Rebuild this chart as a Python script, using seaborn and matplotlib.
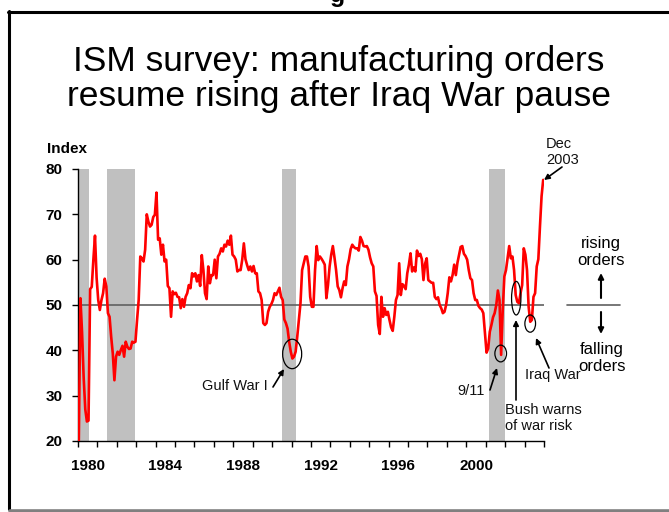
import numpy as np
import pandas as pd
import matplotlib.pyplot as plt
import seaborn as sns
from matplotlib.patches import Ellipse
from matplotlib.lines import Line2D

sns.set_style('ticks')
plt.rcParams['font.family'] = ['Liberation Sans', 'DejaVu Sans']
plt.rcParams['text.color'] = 'black'
plt.rcParams['xtick.color'] = 'black'
plt.rcParams['ytick.color'] = 'black'

# ISM manufacturing new orders index, monthly Jan 1980 - Dec 2003
orders_1980s = [
    20, 51.5, 44, 34, 27, 24.3, 24.5, 53.5, 54, 60, 65.3, 56,             # 1980
    51.1, 48.9, 51.1, 52.6, 55.8, 54.1, 48.2, 47.4, 43, 39.3, 33.4, 38.6,  # 1981
    39.7, 39, 40.1, 41, 38.6, 41.9, 40.8, 40.3, 40.4, 41.9, 41.7, 41.9,    # 1982
    46.7, 51.1, 60.7, 60.3, 59.6, 62.2, 70, 68.4, 67.3, 67.7, 69.4, 69.9,  # 1983
    74.8, 64.4, 64.7, 61.1, 63.3, 59.6, 60, 54.2, 53.7, 47.4, 53, 52.4,    # 1984
    52.7, 51.8, 51.7, 49.3, 51.3, 49.6, 51.8, 52.6, 54.4, 53.7, 57, 56.3,  # 1985
    57, 55.2, 56.6, 54.2, 61, 57.7, 52.6, 51.3, 58.5, 54.8, 56.6, 56.6,    # 1986
    60, 55.9, 60.7, 61.3, 62.5, 61.8, 63.3, 62.9, 64.2, 63.3, 65.3, 61.1,  # 1987
    60.7, 60, 57.4, 57.7, 57.7, 60, 63.6, 60.1, 58.8, 57.7, 58.5, 57.4,    # 1988
    58.6, 57, 57, 53, 52.6, 51.1, 46, 45.6, 46, 48.5, 49.6, 50.2,          # 1989
]
orders_1990s = [
    51.1, 52.6, 52.2, 53, 53.8, 51.8, 51.1, 46.8, 46, 44.8, 41.9, 39.7,    # 1990
    38.2, 38.6, 39.7, 43, 46.7, 50.4, 57.7, 59.2, 60.7, 60.7, 58.5, 51.8,  # 1991
    49.6, 49.6, 57.7, 63, 59.9, 60.7, 60.2, 59.6, 58.9, 51.5, 54.4, 58.5,  # 1992
    61.1, 63, 60.5, 57.7, 54.1, 53.3, 51.7, 53.7, 55.2, 54.4, 58.5, 60.1,  # 1993
    62.3, 63.3, 62.8, 62.5, 62.5, 62, 65, 64.2, 63, 62.9, 63, 62.2,        # 1994
    60.5, 59.2, 58.5, 53, 52, 45.6, 43.6, 51.8, 47.4, 49.3, 47.8, 48.5,    # 1995
    46.7, 45.1, 44.3, 47.4, 51.1, 52.2, 59.2, 52.2, 54.6, 54.2, 53.5, 57,  # 1996
    58.9, 61.4, 57.4, 58.3, 57.4, 62, 60.8, 61.3, 60.1, 55.5, 59.1, 60.3,  # 1997
    55.5, 55.2, 54.9, 54.9, 51.8, 51.3, 51.7, 50, 49.3, 48.2, 48.5, 50,    # 1998
    52.6, 56.1, 55.2, 56.6, 58.9, 56.6, 59.3, 61.1, 62.8, 63, 61.3, 60.8,  # 1999
]
orders_2000s = [
    60, 57.7, 55.9, 55.5, 52.6, 51.1, 51.1, 49.8, 49.3, 49, 48.2, 43.7,    # 2000
    39.5, 40.4, 44.1, 45.6, 47.3, 48.2, 50, 53.2, 51.1, 39, 48.9, 56.3,    # 2001
    57.7, 60.3, 63, 60.3, 60.7, 57.7, 52.2, 50.7, 50.4, 52.6, 54.4, 62.5,  # 2002
    61.1, 57.7, 49.6, 46.3, 46.7, 51.8, 52.6, 58.5, 60.1, 67.3, 74, 77.6,  # 2003
]

# NBER recessions (decimal years)
recessions = [(1980.0, 1980.58), (1981.5, 1982.92), (1990.5, 1991.25), (2001.17, 2001.98)]
year_labels = ['1980', '1984', '1988', '1992', '1996', '2000']
y_ticks = [20, 30, 40, 50, 60, 70, 80]

values = orders_1980s + orders_1990s + orders_2000s
dates = pd.date_range('1980-01-01', periods=len(values), freq='MS')
df = pd.DataFrame({'date': dates.year + (dates.month - 0.5) / 12, 'orders': values})

W, H = 669, 512


def fp(x, y):
    # pixel position (from top-left) -> figure fraction
    return (x / W, 1 - y / H)


fig = plt.figure(figsize=(6.69, 5.12), dpi=100)
ax = fig.add_axes([78 / W, 1 - 441 / H, 466 / W, 272 / H])

for a, b in recessions:
    ax.axvspan(a, b, color='#c0c0c0', lw=0, zorder=0)
ax.axhline(50, color='#606060', lw=1.2, zorder=1)
sns.lineplot(data=df, x='date', y='orders', color='#ff0000', lw=1.9, ax=ax, zorder=3)

ax.set_xlim(1980, 2004)
ax.set_ylim(20, 80)
ax.set_xlabel('')
ax.set_ylabel('')

ax.set_xticks(range(1980, 2005))
ax.set_xticklabels([])
ax.set_xticks([int(y) + 0.5 for y in year_labels], minor=True)
ax.set_xticklabels(year_labels, minor=True, fontweight='bold', fontsize=11, color='black')
ax.tick_params(axis='x', which='major', length=4, width=1, direction='out', color='black')
ax.tick_params(axis='x', which='minor', length=0, pad=13)
ax.set_yticks(y_ticks)
ax.set_yticklabels([str(v) for v in y_ticks], fontweight='bold', fontsize=11, color='black')
ax.tick_params(axis='y', length=4, width=1, pad=7, color='black')
sns.despine(ax=ax)
for s in ['left', 'bottom']:
    ax.spines[s].set_color('black')
    ax.spines[s].set_linewidth(1)

# circled events (data coords)
for cx, cy, w, h in [(1991.03, 39.2, 0.98, 6.5), (2001.77, 39.3, 0.6, 3.7),
                     (2002.57, 51.5, 0.48, 7.4), (2003.29, 45.9, 0.55, 3.8)]:
    ax.add_patch(Ellipse((cx, cy), w, h, fill=False, ec='black', lw=0.9, zorder=4, clip_on=False))

arrow = dict(arrowstyle='-|>', color='black', lw=1.2, mutation_scale=8, shrinkA=0, shrinkB=0)


def note_arrow(tail, head, **kw):
    props = dict(arrow)
    props.update(kw)
    ax.annotate('', xy=fp(*head), xytext=fp(*tail), xycoords='figure fraction',
                textcoords='figure fraction', arrowprops=props, annotation_clip=False)


note_arrow((273, 387), (284, 369))
note_arrow((490, 390), (497, 368))
note_arrow((516, 400), (516, 320))
note_arrow((549, 368), (536, 338))
note_arrow((562, 167), (544, 180))
note_arrow((601, 298), (601, 273), lw=1.5)
note_arrow((601, 312), (601, 334), lw=1.5)

txt = dict(fontsize=10.5, color='#111111')
fig.text(*fp(235, 386), 'Gulf War I', ha='center', va='center', **txt)
fig.text(*fp(471, 391), '9/11', ha='center', va='center', **txt)
fig.text(*fp(505, 418), 'Bush warns\nof war risk', ha='left', va='center', linespacing=1.15, **txt)
fig.text(*fp(553, 375), 'Iraq War', ha='center', va='center', **txt)
fig.text(*fp(546, 152), 'Dec\n2003', ha='left', va='center', linespacing=1.2, **txt)
fig.text(*fp(601, 252), 'rising\norders', ha='center', va='center', fontsize=12, linespacing=1.15)
fig.text(*fp(602, 358), 'falling\norders', ha='center', va='center', fontsize=12, linespacing=1.15)
fig.add_artist(Line2D([567 / W, 620 / W], [1 - 305 / H] * 2, color='#606060', lw=1.2))

fig.text(*fp(47, 149), 'Index', fontweight='bold', fontsize=11, ha='left', va='center')
fig.text(*fp(339, 71), 'ISM survey: manufacturing orders', fontsize=25.5, ha='center', va='baseline')
fig.text(*fp(339, 106), 'resume rising after Iraq War pause', fontsize=25.5, ha='center', va='baseline')
fig.text(*fp(338, 2), 'g', fontsize=18, fontweight='bold', ha='center', va='baseline')

# slide frame
fig.add_artist(Line2D([8 / W, 1.0], [1 - 12 / H] * 2, color='black', lw=2.2))
fig.add_artist(Line2D([8.5 / W] * 2, [1 - 11 / H, 1 - 509 / H], color='black', lw=2.2))
fig.add_artist(Line2D([10 / W, 1.0], [1 - 510.5 / H] * 2, color='#808080', lw=2.6))

fig.savefig('out.png', dpi=100)
